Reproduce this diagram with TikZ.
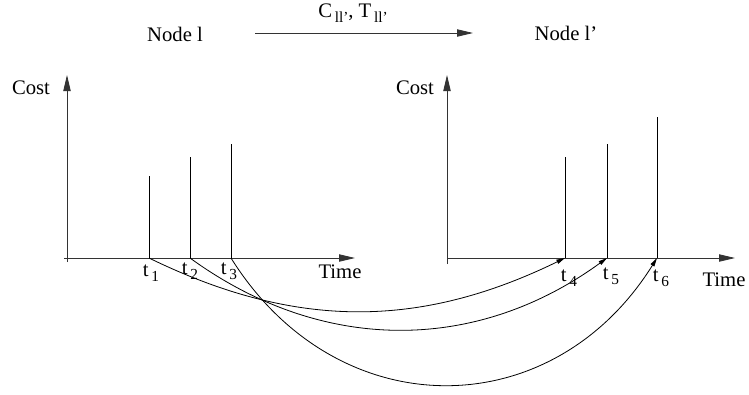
\documentclass[tikz,border=0pt]{standalone}
\usepackage{fontspec}
\setmainfont{Liberation Serif}
\usetikzlibrary{arrows.meta}

\newcommand{\lowsub}[1]{\kern2pt\raisebox{-3.5pt}{\fontsize{11.5}{12}\selectfont #1}}

\begin{document}
\begin{tikzpicture}[x=0.75pt,y=0.75pt,
  every node/.style={font=\fontsize{15.5}{18}\selectfont, inner sep=0pt},
  axis/.style={-{Triangle[length=12pt,width=5.5pt]}, line width=0.6pt, draw=black!80},
  spike/.style={line width=0.6pt},
  move/.style={-{Triangle[length=6.5pt,width=3.2pt]}, line width=0.6pt}]
\useasboundingbox (0,0) rectangle (749,-394);

% header
\node (nl)  at (175,-34) {Node l};
\node (nlp) at (566,-33) {Node l'};
\node (cst) at (353,-13) {C\lowsub{ll'}, T\lowsub{ll'}};
\coordinate (sa) at (255,-33); \coordinate (sb) at (473,-33);
\draw[axis] (sa)--(sb);

% left plot
\coordinate (lo) at (67,-262); \coordinate (ly) at (67,-75);
\coordinate (lx0) at (64,-258); \coordinate (lx) at (355,-258);
\draw[axis] (lo)--(ly); \draw[axis] (lx0)--(lx);
\node (lcost) at (31,-88)  {Cost};
\node (ltime) at (340,-272) {Time};

% right plot
\coordinate (ro) at (447,-264); \coordinate (ry) at (447,-75);
\coordinate (rx0) at (447,-258); \coordinate (rx) at (735,-258);
\draw[axis] (ro)--(ry); \draw[axis] (rx0)--(rx);
\node (rcost) at (415,-88)  {Cost};
\node (rtime) at (724,-280) {Time};

% spikes
\coordinate (t1) at (149,-258); \coordinate (h1) at (149,-176);
\coordinate (t2) at (190,-258); \coordinate (h2) at (190,-157);
\coordinate (t3) at (231,-258); \coordinate (h3) at (231,-144);
\coordinate (t4) at (565,-258); \coordinate (h4) at (565,-157);
\coordinate (t5) at (607,-258); \coordinate (h5) at (607,-144);
\coordinate (t6) at (657,-258); \coordinate (h6) at (657,-117);
\draw[spike] (t1)--(h1); \draw[spike] (t2)--(h2); \draw[spike] (t3)--(h3);
\draw[spike] (t4)--(h4); \draw[spike] (t5)--(h5); \draw[spike] (t6)--(h6);

\node (lt1) at (151,-273) {t\lowsub{1}};
\node (lt2) at (190,-271) {t\lowsub{2}};
\node (lt3) at (229,-271) {t\lowsub{3}};
\node (lt4) at (569,-278) {t\lowsub{4}};
\node (lt5) at (611,-276) {t\lowsub{5}};
\node (lt6) at (661,-278) {t\lowsub{6}};

% transfers
\draw[move] (t1) to[out=-26,in=-154] (t4);
\draw[move] (t2) to[out=-36,in=-144] (t5);
\draw[move] (t3) to[out=-58,in=-122,looseness=1.2] (t6);
\end{tikzpicture}
\end{document}
